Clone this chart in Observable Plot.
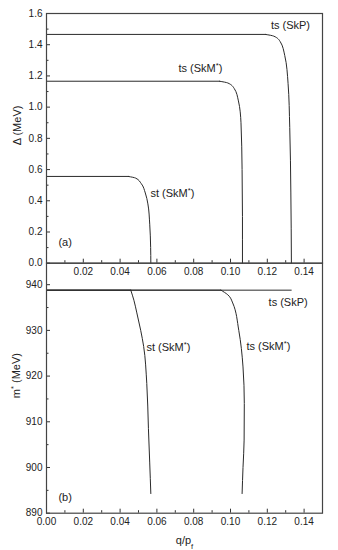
<!DOCTYPE html>
<html>
<head>
<meta charset="utf-8">
<script src="https://cdn.jsdelivr.net/npm/d3@7"></script>
<script src="https://cdn.jsdelivr.net/npm/@observablehq/plot@0.6"></script>
<style>
  html, body { margin: 0; padding: 0; background: #fff; }
  #chart { position: relative; width: 338px; height: 550px; }
  #chart svg { position: absolute; left: 0; top: 0; }
</style>
</head>
<body>
<div id="chart"></div>
<script>
// ---- data ----
// panel (a): gap Δ (MeV) versus q/p_f
const skpGapQ   = [0, 0.119, 0.1235, 0.1270, 0.1295, 0.1313, 0.1322, 0.1328, 0.1331];
const skpGapD   = [1.466, 1.466, 1.455, 1.42, 1.33, 1.15, 0.87, 0.45, 0.0];
const skmTsGapQ = [0, 0.094, 0.0985, 0.1020, 0.1043, 0.1057, 0.1063, 0.1065, 0.1065];
const skmTsGapD = [1.166, 1.166, 1.155, 1.12, 1.04, 0.90, 0.60, 0.30, 0.0];
const skmStGapQ = [0, 0.0445, 0.0485, 0.0515, 0.0537, 0.0551, 0.0561, 0.0566, 0.0567];
const skmStGapD = [0.556, 0.556, 0.545, 0.51, 0.45, 0.38, 0.25, 0.10, 0.0];
// panel (b): effective mass m* (MeV) versus q/p_f
const skpMassQ   = [0, 0.133];
const skpMassM   = [938.8, 938.8];
const skmStMassQ = [0, 0.0458, 0.0475, 0.0490, 0.0512, 0.0528, 0.0545, 0.0554, 0.0561, 0.0567];
const skmStMassM = [938.8, 938.8, 936.6, 934.0, 930.0, 926.5, 918.4, 908.5, 901.0, 894.3];
const skmTsMassQ = [0, 0.0948, 0.0985, 0.1012, 0.1045, 0.1068, 0.1075, 0.1074, 0.1068, 0.1063];
const skmTsMassM = [938.8, 938.8, 937.8, 936.0, 930.0, 922.0, 914.0, 906.0, 900.0, 894.3];
// ticks
const xMajor = [0, 0.02, 0.04, 0.06, 0.08, 0.10, 0.12, 0.14];
const xMinor = [0.01, 0.03, 0.05, 0.07, 0.09, 0.11, 0.13];
const gapMajor = [0, 0.2, 0.4, 0.6, 0.8, 1.0, 1.2, 1.4, 1.6];
const gapMinor = [0.1, 0.3, 0.5, 0.7, 0.9, 1.1, 1.3, 1.5];
const massMajor = [890, 900, 910, 920, 930, 940];
const massMinor = [895, 905, 915, 925, 935];
// curve annotations
const gapNotes  = [
  {q: 0.1326, v: 1.526, text: "ts (SkP)", anchor: "middle"},
  {q: 0.0717, v: 1.25,  text: "ts (SkM*)", anchor: "start"},
  {q: 0.0565, v: 0.447, text: "st (SkM*)", anchor: "start"},
  {q: 0.0065, v: 0.133, text: "(a)", anchor: "start"}
];
const massNotes = [
  {q: 0.1207, v: 936.1, text: "ts (SkP)", anchor: "start"},
  {q: 0.0543, v: 926.3, text: "st (SkM*)", anchor: "start"},
  {q: 0.1087, v: 926.5, text: "ts (SkM*)", anchor: "start"},
  {q: 0.0065, v: 893.4, text: "(b)", anchor: "start"}
];

const zip = (Q, V) => Q.map((q, i) => ({q, v: V[i]}));
const gapSeries = [zip(skpGapQ, skpGapD), zip(skmTsGapQ, skmTsGapD), zip(skmStGapQ, skmStGapD)];
const massSeries = [zip(skpMassQ, skpMassM), zip(skmStMassQ, skmStMassM), zip(skmTsMassQ, skmTsMassM)];

const W = 338, H = 550;
const font = "'Liberation Sans', Arial, Helvetica, sans-serif";
const lineColor = "#2a2a2a";
const plotStyle = {fontFamily: font, fontSize: "10px", background: "transparent", color: "#222", overflow: "visible"};

// flat plateau drawn straight, falling branch drawn as a smooth curve in y
function curveMarks(series) {
  const marks = [];
  for (const s of series) {
    let k = 0;
    while (k + 1 < s.length && s[k + 1].v === s[0].v) k++;
    marks.push(Plot.line(s.slice(0, k + 1), {x: "q", y: "v", stroke: lineColor, strokeWidth: 1}));
    if (k + 1 < s.length) {
      marks.push(Plot.line(s.slice(k), {x: "q", y: "v", curve: "monotone-y", stroke: lineColor, strokeWidth: 1}));
    }
  }
  return marks;
}

function noteMarks(notes) {
  return ["start", "middle"].map(a => Plot.text(notes.filter(d => d.anchor === a), {
    x: "q", y: "v", text: "text", textAnchor: a, fontSize: 11, fill: "#222"
  }));
}

const plotA = Plot.plot({
  width: W, height: H,
  marginLeft: 46, marginRight: 16, marginTop: 13, marginBottom: H - 262.7,
  x: {domain: [0, 0.15], label: null},
  y: {domain: [0, 1.6], label: null},
  style: plotStyle,
  marks: [
    ...curveMarks(gapSeries),
    Plot.axisX({ticks: xMajor, tickSize: -4, tickFormat: () => "", stroke: "#333", label: null}),
    Plot.axisX({ticks: xMinor, tickSize: -2.5, tickFormat: () => "", stroke: "#333", label: null}),
    Plot.axisX({ticks: xMajor.filter(d => d > 0), tickSize: 0, tickPadding: 5, tickFormat: d3.format(".2f"), label: null}),
    Plot.axisY({ticks: gapMajor, tickSize: -4, tickFormat: () => "", stroke: "#333", label: null}),
    Plot.axisY({ticks: gapMinor, tickSize: -2.5, tickFormat: () => "", stroke: "#333", label: null}),
    Plot.axisY({ticks: gapMajor, tickSize: 0, tickPadding: 4, tickFormat: d3.format(".1f"), label: null}),
    Plot.frame({stroke: "#444", strokeWidth: 1.2}),
    ...noteMarks(gapNotes),
    Plot.text(["Δ (MeV)"], {frameAnchor: "left", dx: -29, dy: 7, rotate: -90, fontSize: 11, fill: "#222"})
  ]
});

const plotB = Plot.plot({
  width: W, height: H,
  marginLeft: 46, marginRight: 16, marginTop: 262.7, marginBottom: H - 512.7,
  x: {domain: [0, 0.15], label: null},
  y: {domain: [890, 944.7], label: null},
  style: plotStyle,
  marks: [
    ...curveMarks(massSeries),
    Plot.axisX({ticks: xMajor, tickSize: -4, tickFormat: () => "", stroke: "#333", label: null}),
    Plot.axisX({ticks: xMinor, tickSize: -2.5, tickFormat: () => "", stroke: "#333", label: null}),
    Plot.axisX({ticks: xMajor, tickSize: 0, tickPadding: 5, tickFormat: d3.format(".2f"), label: null}),
    Plot.axisY({ticks: massMajor, tickSize: -4, tickFormat: () => "", stroke: "#333", label: null}),
    Plot.axisY({ticks: massMinor, tickSize: -2.5, tickFormat: () => "", stroke: "#333", label: null}),
    Plot.axisY({ticks: massMajor, tickSize: 0, tickPadding: 4, tickFormat: d => String(d), label: null}),
    Plot.frame({stroke: "#444", strokeWidth: 1.2}),
    ...noteMarks(massNotes),
    Plot.text(["m* (MeV)"], {frameAnchor: "left", dx: -30, dy: 10, rotate: -90, fontSize: 11, fill: "#222"}),
    Plot.text(["q/p_f"], {frameAnchor: "bottom", dy: 31, fontSize: 11, fill: "#222"})
  ]
});

// superscript stars and subscript letters, kept as real text
function richify(svg) {
  d3.select(svg).selectAll("text").each(function () {
    if (this.querySelector("tspan")) return;
    const t = this.textContent;
    if (!/[*_]/.test(t)) return;
    const parts = t.split(/(\*|_\w)/);
    this.textContent = "";
    for (const p of parts) {
      if (!p) continue;
      const ts = d3.select(this).append("tspan");
      if (p === "*") ts.attr("baseline-shift", "super").attr("font-size", "70%").text("*");
      else if (p.startsWith("_")) ts.attr("baseline-shift", "sub").attr("font-size", "70%").text(p.slice(1));
      else ts.text(p);
    }
  });
}
richify(plotA); richify(plotB);

const chart = document.getElementById("chart");
chart.append(plotB, plotA);
</script>
</body>
</html>
